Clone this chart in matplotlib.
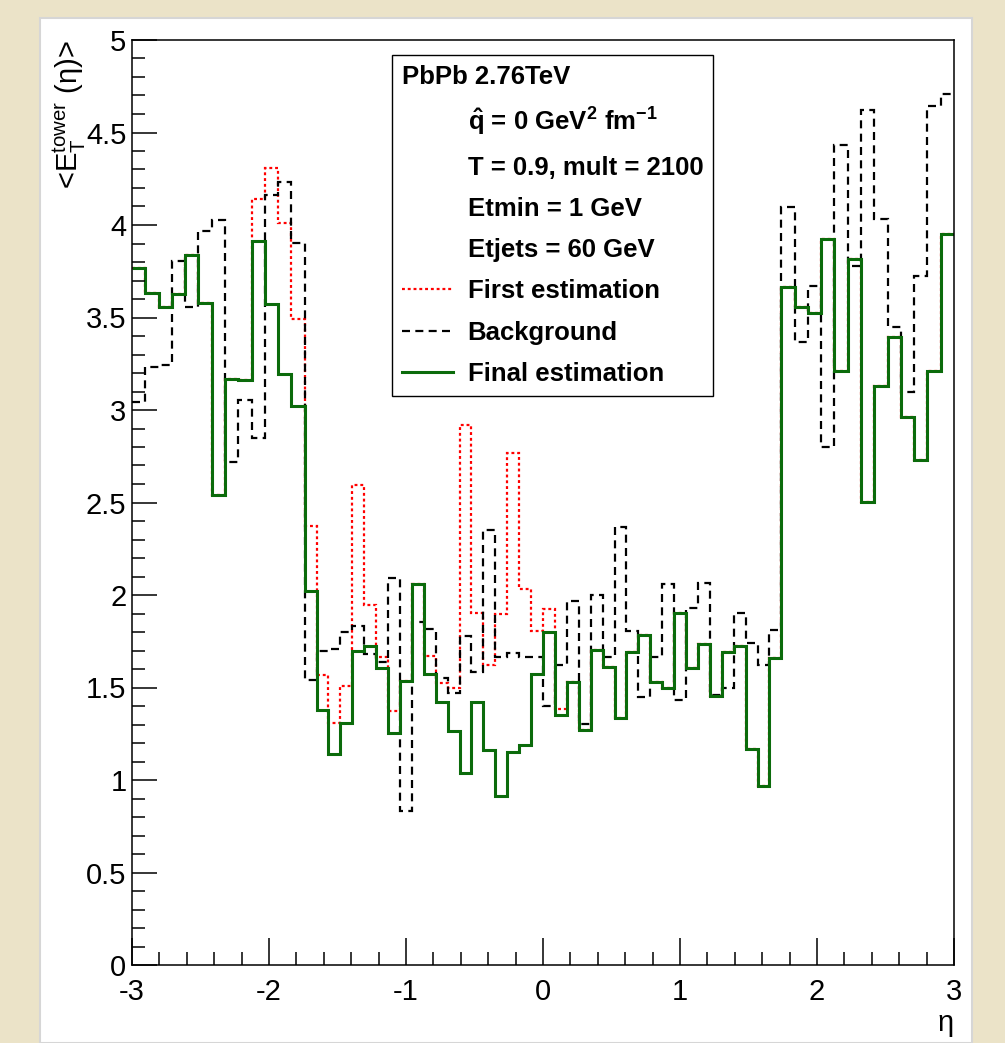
import numpy as np
import matplotlib.pyplot as plt
from matplotlib.lines import Line2D
from matplotlib.patches import Rectangle
from matplotlib.ticker import MultipleLocator, FuncFormatter

plt.rcParams['font.family'] = ['Liberation Sans', 'DejaVu Sans']
plt.rcParams['mathtext.fontset'] = 'custom'
plt.rcParams['mathtext.rm'] = 'Liberation Sans'
plt.rcParams['mathtext.it'] = 'Liberation Sans:italic'
plt.rcParams['mathtext.bf'] = 'Liberation Sans:bold'
plt.rcParams['axes.unicode_minus'] = False

#+++++++++++++++ tower bins in eta (13 wide forward bins, 40 central bins of 0.087)
edges_lo = np.linspace(-3.0, -1.74, 14)
edges_mid = np.linspace(-1.74, 1.74, 41)
edges_hi = np.linspace(1.74, 3.0, 14)
edges = np.concatenate([edges_lo, edges_mid[1:], edges_hi[1:]])

#+++++++++++++++ <E_T^tower>(eta) per bin
first_est = [3.77, 3.63, 3.555, 3.625, 3.84, 3.58, 2.54, 3.17, 3.16, 4.14, 4.31, 4.01, 3.49,
             2.375, 1.57, 1.31, 1.51, 2.595, 1.945, 1.665, 1.375, 1.535, 2.06,
             1.67, 1.525, 1.495, 2.92, 1.905, 1.62, 1.90, 2.765, 2.035, 1.805,
             1.925, 1.385, 1.53, 1.27, 1.705, 1.61, 1.335, 1.69, 1.785, 1.53,
             1.50, 1.905, 1.605, 1.735, 1.455, 1.69, 1.725, 1.17, 0.97, 1.66,
             3.665, 3.555, 3.525, 3.925, 3.21, 3.815, 2.505, 3.13, 3.395, 2.96, 2.73, 3.21, 3.95]

background = [3.045, 3.23, 3.245, 3.805, 3.555, 3.965, 4.025, 2.72, 3.055, 2.85, 4.16, 4.23, 3.905,
              1.54, 1.70, 1.71, 1.80, 1.835, 1.68, 1.64, 2.09, 0.835, 1.855,
              1.815, 1.55, 1.47, 1.78, 1.585, 2.35, 1.665, 1.685, 1.665, 1.665,
              1.40, 1.62, 1.965, 1.305, 2.00, 1.665, 2.37, 1.805, 1.45, 1.665,
              2.06, 1.43, 1.93, 2.065, 1.46, 1.50, 1.905, 1.74, 1.62, 1.81,
              4.10, 3.37, 3.67, 2.80, 4.43, 3.78, 4.62, 4.035, 3.45, 3.10, 3.725, 4.645, 4.71]

final_est = [3.77, 3.63, 3.555, 3.625, 3.84, 3.58, 2.54, 3.17, 3.16, 3.915, 3.575, 3.195, 3.02,
             2.02, 1.38, 1.14, 1.31, 1.70, 1.725, 1.605, 1.255, 1.535, 2.06,
             1.575, 1.42, 1.265, 1.04, 1.42, 1.16, 0.915, 1.15, 1.19, 1.575,
             1.80, 1.35, 1.53, 1.27, 1.705, 1.61, 1.335, 1.69, 1.785, 1.53,
             1.50, 1.905, 1.605, 1.735, 1.455, 1.69, 1.725, 1.17, 0.97, 1.66,
             3.665, 3.555, 3.525, 3.925, 3.21, 3.815, 2.505, 3.13, 3.395, 2.96, 2.73, 3.21, 3.95]

legend_title = 'PbPb 2.76TeV'
info_lines = [r'$\mathbf{\hat{q}}$ = 0 GeV$^{\mathbf{2}}$ fm$^{\mathbf{-1}}$',
              'T = 0.9, mult = 2100', 'Etmin = 1 GeV', 'Etjets = 60 GeV']
series_names = ['First estimation', 'Background', 'Final estimation']

green = '#0b6b0b'
red_style = (0, (1.3, 1.3))
black_style = (0, (3.6, 2.4))

#+++++++++++++++ canvas
fig = plt.figure(figsize=(10.05, 10.43), dpi=100)
fig.patch.set_facecolor('#ebe3c8')
fig.add_artist(Rectangle((40/1005, 0), 932/1005, 1025/1043, transform=fig.transFigure,
                         facecolor='white', edgecolor='#d6d6d6', lw=1.5, zorder=0))

ax = fig.add_axes([132/1005, 78/1043, 822/1005, 925/1043])
ax.stairs(first_est, edges, baseline=None, color='red', lw=1.6, linestyle=red_style)
ax.stairs(background, edges, baseline=None, color='black', lw=1.6, linestyle=black_style)
ax.stairs(final_est, edges, baseline=None, color=green, lw=2.2)

ax.set_xlim(-3, 3)
ax.set_ylim(0, 5)
ax.xaxis.set_major_locator(MultipleLocator(1))
ax.xaxis.set_minor_locator(MultipleLocator(0.2))
ax.yaxis.set_major_locator(MultipleLocator(0.5))
ax.yaxis.set_minor_locator(MultipleLocator(0.1))
fmt = FuncFormatter(lambda v, p: f'{v:g}')
ax.xaxis.set_major_formatter(fmt)
ax.yaxis.set_major_formatter(fmt)
ax.tick_params(which='both', direction='in', top=False, right=False, width=1.1, labelsize=21)
ax.tick_params(axis='x', which='major', length=19.5, pad=9)
ax.tick_params(axis='y', which='major', length=18, pad=4)
ax.tick_params(which='minor', length=9.5)
for s in ax.spines.values():
    s.set_linewidth(1.1)

ax.set_ylabel(r'<E$_{\rm T}^{\rm tower}$ (η)>', fontsize=21, loc='top')
ax.yaxis.set_label_coords(-0.054, 1.0)
ax.set_xlabel('η', fontsize=21, loc='right')
ax.xaxis.set_label_coords(1.0, -0.048)

#+++++++++++++++ legend box
blank = Line2D([], [], linestyle='none')
handles = [blank] * len(info_lines) + [
    Line2D([], [], color='red', lw=1.6, linestyle=red_style),
    Line2D([], [], color='black', lw=1.6, linestyle=black_style),
    Line2D([], [], color=green, lw=2.2)]
leg = ax.legend(handles, info_lines + series_names, title=legend_title, alignment='left',
                loc='upper left', bbox_to_anchor=(0.316, 0.984), borderaxespad=0,
                prop={'weight': 'bold', 'size': 18.5},
                title_fontproperties={'weight': 'bold', 'size': 18.5},
                fancybox=False, edgecolor='black', framealpha=1,
                borderpad=0.4, labelspacing=0.67, handlelength=2.0, handletextpad=0.55)
leg.get_frame().set_linewidth(1.0)

fig.savefig('out.png', dpi=100, facecolor=fig.get_facecolor())
